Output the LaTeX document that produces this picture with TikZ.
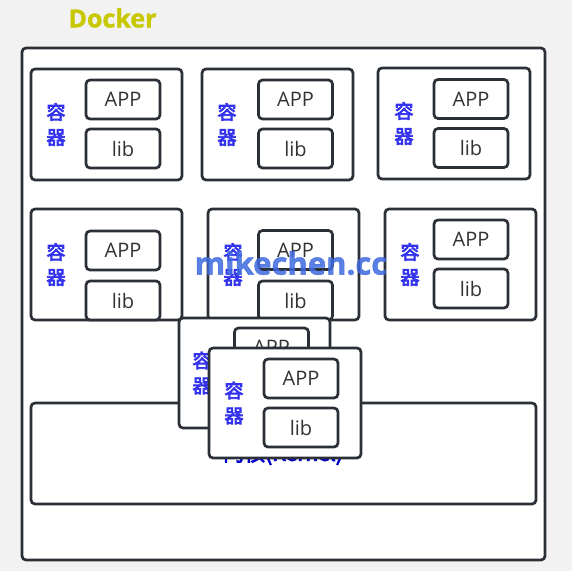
\documentclass[tikz,border=0pt]{standalone}
\usepackage{fontspec}
\setmainfont{Open Sans}
\newfontfamily\cjk[FakeBold=4]{Noto Sans CJK SC}
\newfontfamily\osb[FakeBold=1.5]{Open Sans}
\definecolor{bg}{HTML}{F2F2F2}
\definecolor{ln}{HTML}{2B2F36}
\definecolor{ctxt}{HTML}{3333EE}
\definecolor{ktxt}{HTML}{0000CC}
\definecolor{dock}{HTML}{C8C800}
\definecolor{wm}{HTML}{3F6AE0}
\tikzset{
  box/.style={draw=ln, line width=2.7pt, rounded corners=4pt, fill=white, inner sep=0pt, anchor=center},
  inbox/.style={box, minimum width=74pt, minimum height=39pt, font=\fontsize{20}{20}\selectfont, text=black!80},
  ctlabel/.style={font=\cjk\fontsize{19}{25}\selectfont, text=ctxt, align=center, inner sep=0pt},
}
% \cont{id}{x1}{y1}{x2}{y2}{textx}{appcx}{appcy}{libcy}
\newcommand\cont[9]{%
  \node[box, minimum width=#4pt-#2pt, minimum height=#5pt-#3pt] (c#1) at ({(#2+#4)/2}, {(#3+#5)/2}) {};
  \node[ctlabel] (t#1) at (#6, {(#3+#5)/2}) {容\\器};
  \node[inbox] (a#1) at (#7, #8) {APP};
  \node[inbox] (l#1) at (#7, #9) {lib};
}
\begin{document}
\begin{tikzpicture}[x=1pt, y=-1pt]
\fill[bg] (0,0) rectangle (572,571);
\useasboundingbox (0,0) rectangle (572,571);
\node[font=\osb\bfseries\fontsize{25}{25}\selectfont, text=dock, inner sep=0pt] (title) at (112.5,18) {Docker};
\node[box, minimum width=523pt, minimum height=512pt] (outer) at (283.5,304) {};
\cont{1}{31}{69}{182}{180}{56}{123}{99.5}{148.5}
\cont{2}{202}{69}{353}{180}{227}{295.5}{99.5}{148.5}
\cont{3}{378}{68}{530}{179}{404}{471}{99}{148}
\cont{4}{31}{209}{182}{320}{56}{123}{250.5}{300.5}
\cont{5}{208}{209}{359}{320}{233}{295.5}{250}{300.5}
\cont{6}{385}{209}{536}{320}{410}{471}{239.5}{288.5}
\node[box, minimum width=505pt, minimum height=101pt] (kernel) at (283.5,453.5) {};
\node[font=\cjk\fontsize{21}{21}\selectfont, text=ktxt, inner sep=0pt] (ktext) at (283,454) {内核(Kernel)};
\cont{7}{179}{318}{330}{428}{202}{271.5}{347.5}{396.5}
\cont{8}{209}{348}{361}{458}{234}{301}{378.5}{427.5}
\node[font=\osb\bfseries\fontsize{31}{31}\selectfont, text=wm, opacity=0.85, inner sep=0pt] (wmark) at (291,263) {mikechen.cc};
\end{tikzpicture}
\end{document}
